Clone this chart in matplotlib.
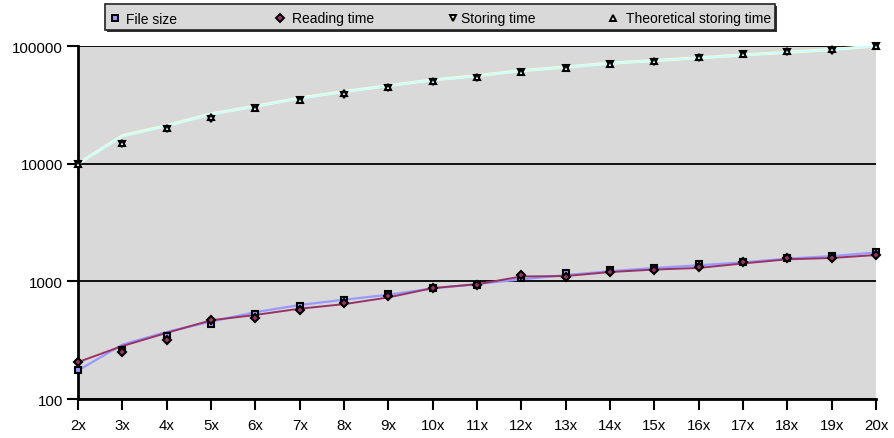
import matplotlib
matplotlib.use("Agg")
import matplotlib.pyplot as plt
from matplotlib.ticker import FixedLocator, NullLocator
from matplotlib.patches import Rectangle

plt.rcParams['font.family'] = ['Liberation Sans', 'DejaVu Sans']

# categories: scaling factor of the input
factors = list(range(2, 21))
labels = ['%dx' % f for f in factors]

# measured points (markers)
file_size = [175, 259, 340, 430, 531, 621, 698, 786, 877, 935, 1060, 1170,
             1256, 1298, 1403, 1450, 1570, 1653, 1762]
reading_time = [206, 251, 318, 467, 491, 575, 659, 750, 877, 935, 1138, 1081,
                1193, 1256, 1320, 1450, 1570, 1590, 1675]
storing_time = [10000, 14800, 19800, 24100, 29700, 34900, 38700, 43800, 49200,
                53500, 59800, 64900, 70300, 72800, 78700, 85500, 88300, 91200,
                100000]
theo_storing = [10000, 15000, 20000, 25000, 30000, 35000, 40000, 45000, 50000,
                55000, 60000, 65000, 70000, 75000, 80000, 85000, 90000, 95000,
                100000]

# trend lines
file_size_line = [175, 290, 372, 455, 547, 630, 698, 770, 870, 950, 1040, 1130,
                  1220, 1300, 1370, 1450, 1560, 1640, 1762]
reading_line = [206, 282, 365, 467, 518, 586, 640, 730, 877, 945, 1100, 1110,
                1200, 1260, 1300, 1420, 1540, 1580, 1675]
storing_line = [10000, 17300, 21100, 26500, 30800, 36200, 41000, 46100, 51500,
                56000, 61800, 66400, 71500, 75200, 79500, 84000, 88500, 93500,
                100000]
theo_line = [10000, 17100, 21000, 26400, 30700, 36000, 40800, 46000, 51300,
             55800, 61600, 66200, 71300, 75000, 79300, 83800, 88300, 93300,
             100000]

series = [
    ('File size', 's', '#9999ff', 5.0),
    ('Reading time', 'D', '#993366', 4.2),
    ('Storing time', 'v', '#ffffcc', 4.6),
    ('Theoretical storing time', '^', '#ccffff', 4.6),
]

fig = plt.figure(figsize=(8.95, 4.39), dpi=100)
ax = fig.add_axes([0.0872, 0.0888, 0.8916, 0.804])
ax.set_facecolor('#d9d9d9')

ax.plot(factors, storing_line, color='#ffffcc', lw=2.2, zorder=2)
ax.plot(factors, theo_line, color='#ccffff', lw=1.6, zorder=2)
ax.plot(factors, file_size_line, color='#9999ff', lw=1.6, zorder=2)
ax.plot(factors, reading_line, color='#993366', lw=1.4, zorder=3)

for (name, m, c, s), vals in zip(series, [file_size, reading_time,
                                          storing_time, theo_storing]):
    ax.plot(factors, vals, ls='none', marker=m, mfc=c, mec='black', mew=1.5,
            ms=s, clip_on=False, zorder=4)

ax.set_yscale('log')
ax.set_ylim(100, 100000)
ax.set_xlim(2, 20)
ax.yaxis.set_major_locator(FixedLocator([100, 1000, 10000, 100000]))
ax.yaxis.set_minor_locator(NullLocator())
ax.set_yticklabels(['100', '1000', '10000', '100000'])
ax.set_xticks(factors)
ax.set_xticklabels(labels)
ax.grid(axis='y', color='black', lw=1.3, zorder=1)
ax.set_axisbelow(True)

for s in ['top', 'right']:
    ax.spines[s].set_visible(False)
ax.spines['left'].set_linewidth(2)
ax.spines['bottom'].set_linewidth(2)
ax.tick_params(axis='both', direction='out', length=8, width=1.5,
               labelsize=10.8, colors='black')
ax.tick_params(axis='y', pad=3)
ax.tick_params(axis='x', pad=6)

# legend box drawn by hand, with a small shadow
W, H = 895.0, 439.0
fig.patches.append(Rectangle((107 / W, 1 - 33 / H), 670 / W, 26 / H,
                             transform=fig.transFigure, facecolor='#333333',
                             edgecolor='none', zorder=5))
fig.patches.append(Rectangle((105 / W, 1 - 31 / H), 670 / W, 26 / H,
                             transform=fig.transFigure, facecolor='#d9d9d9',
                             edgecolor='#222222', lw=1.2, zorder=6))
mark_x = [115, 280, 453, 613]
text_x = [126.5, 291.5, 461.5, 626.5]
for (name, m, c, s), mx, tx in zip(series, mark_x, text_x):
    fig.add_artist(plt.Line2D([mx / W], [1 - 19 / H], ls='none', marker=m,
                              mfc=c, mec='black', mew=1.4, ms=s - 0.3,
                              transform=fig.transFigure, zorder=7))
    fig.text(tx / W, 1 - 19.5 / H, name, fontsize=10, va='center',
             ha='left', zorder=7)

fig.savefig('out.png', dpi=100)
